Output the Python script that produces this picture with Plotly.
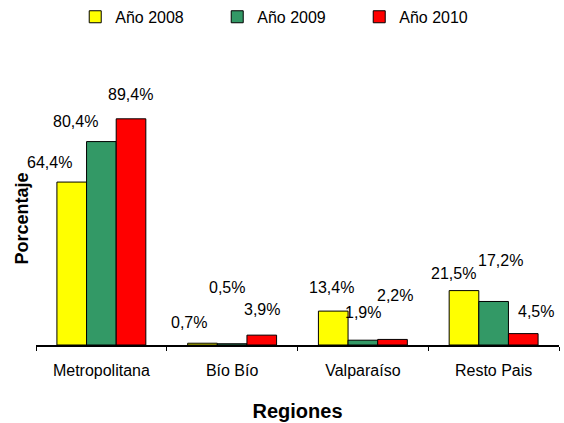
import plotly.graph_objects as go

# ---- data ----
regions = ["Metropolitana", "Bío Bío", "Valparaíso", "Resto Pais"]
series_names = ["Año 2008", "Año 2009", "Año 2010"]
v2008 = [64.4, 0.7, 13.4, 21.5]
v2009 = [80.4, 0.5, 1.9, 17.2]
v2010 = [89.4, 3.9, 2.2, 4.5]
values = [v2008, v2009, v2010]

# ---- styling ----
colors = ["#FFFF00", "#339966", "#FF0000"]
FONT = "Liberation Sans, Arial, sans-serif"
BARGAP = 0.32
# label offsets (px) relative to each bar top, as in the original chart
label_dx = [[-22, -13, -2, -10], [-26, -5, 0, 7], [-1, 0, 2, 13]]
label_dy = [[20, 21, 24, 17], [20, 56, 28, 41], [24, 26, 44, 22]]

fig = go.Figure()
for s, name in enumerate(series_names):
    fig.add_trace(go.Bar(
        x=regions, y=values[s], name=name,
        marker=dict(color=colors[s], line=dict(color="#000000", width=1)),
    ))

bw = (1 - BARGAP) / len(series_names)
ann = []
for s in range(len(series_names)):
    for i, v in enumerate(values[s]):
        ann.append(dict(
            x=i + (s - 1) * bw, y=v, xref="x", yref="y",
            text=f"{v:.1f}%".replace(".", ","), showarrow=False,
            xanchor="center", yanchor="middle",
            xshift=label_dx[s][i], yshift=label_dy[s][i],
            font=dict(family=FONT, size=16, color="#000000"),
        ))

fig.update_layout(
    width=564, height=423,
    margin=dict(l=36, r=5, t=92, b=78, autoexpand=False),
    paper_bgcolor="white", plot_bgcolor="white",
    barmode="group", bargap=BARGAP, bargroupgap=0,
    font=dict(family=FONT, size=16, color="#000000"),
    showlegend=True,
    legend=dict(orientation="h", x=0.075, xanchor="left", y=1.297, yanchor="middle",
                entrywidth=97, entrywidthmode="pixels", traceorder="normal",
                font=dict(family=FONT, size=16), bgcolor="rgba(0,0,0,0)"),
    annotations=ann,
    xaxis=dict(
        automargin=False, range=[-0.5, len(regions) - 0.5],
        showline=True, linecolor="#000000", linewidth=1.5,
        ticks="outside", tickson="boundaries", ticklen=4, tickcolor="#000000",
        ticklabelstandoff=10,
        showgrid=False, zeroline=False,
        tickfont=dict(family=FONT, size=16),
        title=dict(text="<b>Regiones</b>", standoff=26,
                   font=dict(family=FONT, size=20)),
    ),
    yaxis=dict(
        automargin=False,
        range=[0, 100], showline=False, showgrid=False, zeroline=False,
        showticklabels=False, ticks="",
        title=dict(text="<b>Porcentaje</b>", standoff=1,
                   font=dict(family=FONT, size=18)),
    ),
)

fig.write_html("out.html", config={"displayModeBar": False},
               post_script="document.body.style.margin='0px';")
